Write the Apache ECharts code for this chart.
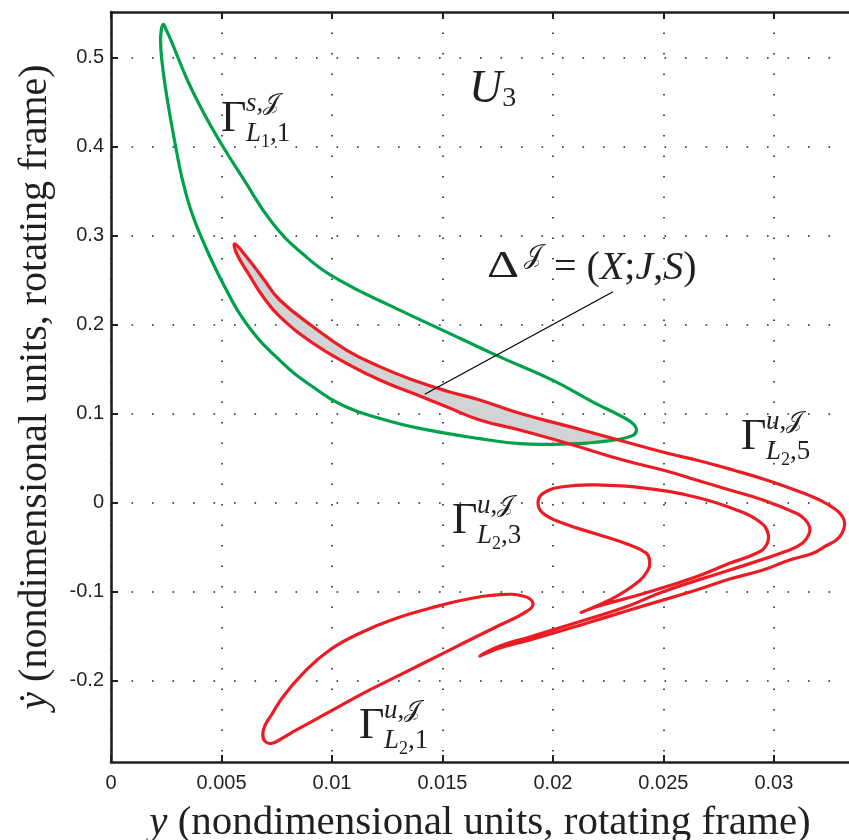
<!DOCTYPE html>
<html><head><meta charset="utf-8">
<script src="https://cdn.jsdelivr.net/npm/echarts@6/dist/echarts.min.js"></script>
<style>html,body{margin:0;padding:0;background:#fff}#c{width:849px;height:840px}</style>
</head><body><div id="c"></div>
<script>
// ---- tick values / labels ----
const xTicks = [0, 0.005, 0.01, 0.015, 0.02, 0.025, 0.03];
const xTickLabels = ['0', '0.005', '0.01', '0.015', '0.02', '0.025', '0.03'];
const yTicks = [-0.2, -0.1, 0, 0.1, 0.2, 0.3, 0.4, 0.5];
const yTickLabels = ['-0.2', '-0.1', '0', '0.1', '0.2', '0.3', '0.4', '0.5'];

// ---- closed curves: [y, ydot] ----
const gammaS_L1_1 = [
  [0.002367,0.5370],[0.002502,0.5308],[0.002729,0.5184],[0.003475,0.4735],[0.004244,0.4353],
  [0.004968,0.4038],[0.005964,0.3645],[0.007335,0.3131],[0.008846,0.2756],[0.010353,0.2494],
  [0.012615,0.2213],[0.015027,0.1933],[0.017444,0.1652],[0.020004,0.1371],[0.021815,0.1127],
  [0.023172,0.0958],[0.023656,0.0876],[0.023778,0.0809],[0.023625,0.0753],[0.022873,0.0704],
  [0.021516,0.0666],[0.020004,0.0652],[0.018498,0.0660],[0.016688,0.0716],[0.013973,0.0831],
  [0.012163,0.0944],[0.010656,0.1071],[0.009145,0.1296],[0.007638,0.1596],[0.006131,0.2008],
  [0.005104,0.2443],[0.004199,0.2915],[0.003611,0.3285],[0.003204,0.3656],[0.002955,0.3960],
  [0.002706,0.4297],[0.002480,0.4634],[0.002299,0.4971],[0.002244,0.5173],[0.002276,0.5308]
];
const gammaU_L2_5 = [
  [0.005602,0.2903],[0.006131,0.2761],[0.006869,0.2521],[0.007638,0.2274],[0.009145,0.1974],
  [0.010656,0.1712],[0.012163,0.1525],[0.013670,0.1375],[0.015181,0.1252],[0.016688,0.1151],
  [0.018498,0.1001],[0.020760,0.0851],[0.022719,0.0718],[0.025136,0.0555],[0.026493,0.0476],
  [0.028149,0.0364],[0.029661,0.0252],[0.031167,0.0120],[0.032072,0.0027],[0.032828,-0.0085],
  [0.033113,-0.0164],[0.033204,-0.0243],[0.033090,-0.0344],[0.032828,-0.0422],[0.032344,-0.0490],
  [0.031769,-0.0572],[0.030715,-0.0647],[0.029507,-0.0760],[0.028000,-0.0861],[0.026493,-0.0984],
  [0.023475,-0.1209],[0.021516,-0.1358],[0.018950,-0.1546],[0.017593,-0.1636],[0.016688,-0.1726],
  [0.017593,-0.1613],[0.018950,-0.1512],[0.021516,-0.1316],[0.023475,-0.1158],[0.024982,-0.1003],
  [0.028000,-0.0760],[0.030715,-0.0535],[0.031303,-0.0456],[0.031575,-0.0366],[0.031620,-0.0276],
  [0.031394,-0.0187],[0.031018,-0.0122],[0.029507,0.0027],[0.028000,0.0139],[0.026493,0.0252],
  [0.025136,0.0353],[0.023172,0.0476],[0.020760,0.0656],[0.018498,0.0813],[0.016688,0.0926],
  [0.015181,0.1075],[0.013670,0.1226],[0.012163,0.1375],[0.010656,0.1563],[0.009145,0.1788],
  [0.007638,0.2087],[0.006882,0.2311],[0.006281,0.2544],[0.005679,0.2799]
];
const gammaU_L2_3 = [
  [0.021290,-0.1235],[0.022570,-0.1097],[0.023778,-0.0909],[0.024303,-0.0760],[0.024380,-0.0666],
  [0.024231,-0.0572],[0.023475,-0.0479],[0.021968,-0.0355],[0.020457,-0.0235],[0.019552,-0.0122],
  [0.019326,-0.0010],[0.019552,0.0102],[0.020457,0.0176],[0.021968,0.0196],[0.024231,0.0158],
  [0.026493,0.0057],[0.028303,-0.0085],[0.029357,-0.0217],[0.029733,-0.0347],[0.029661,-0.0479],
  [0.029208,-0.0572],[0.028000,-0.0684],[0.026493,-0.0835],[0.024231,-0.1015],[0.021968,-0.1172]
];
const gammaU_L2_1 = [
  [0.007231,-0.2400],[0.007787,-0.2183],[0.008692,-0.1920],[0.009900,-0.1658],[0.011407,-0.1453],
  [0.012919,-0.1302],[0.014425,-0.1190],[0.015932,-0.1097],[0.017443,-0.1040],[0.018647,-0.1052],
  [0.019100,-0.1134],[0.018801,-0.1228],[0.017443,-0.1397],[0.015932,-0.1583],[0.015027,-0.1697],
  [0.012919,-0.1958],[0.011407,-0.2145],[0.009900,-0.2352],[0.008394,-0.2557],[0.007729,-0.2653],
  [0.007253,-0.2709],[0.006959,-0.2681],[0.006869,-0.2602],[0.006982,-0.2501]
];
// shaded intersection region Delta
const deltaRegion = [
  [0.005602,0.2903],[0.006131,0.2761],[0.006869,0.2521],[0.007638,0.2274],[0.009145,0.1974],
  [0.010656,0.1712],[0.012163,0.1525],[0.013670,0.1375],[0.015181,0.1252],[0.016688,0.1151],
  [0.018498,0.1001],[0.020760,0.0851],[0.022873,0.0720],[0.021968,0.0685],[0.020760,0.0656],
  [0.018498,0.0813],[0.016688,0.0926],[0.015181,0.1075],[0.013670,0.1226],[0.012163,0.1375],
  [0.010656,0.1563],[0.009145,0.1788],[0.007638,0.2087],[0.006882,0.2311],[0.006281,0.2544],
  [0.005679,0.2799]
];
const deltaPointer = [[0.014199,0.1215],[0.022719,0.2367]];

const RED = '#ED1C24', GREEN = '#00A14B', INK = '#231f20';
const SERIF = "'Liberation Serif','DejaVu Serif','DejaVu Sans','Noto Sans',serif";
const SANS = "'Liberation Sans',Arial,sans-serif";

function lab(ticks, labels) {
  return v => { const i = ticks.findIndex(t => Math.abs(t - v) < 1e-9); return i >= 0 ? labels[i] : ''; };
}

const chart = echarts.init(document.getElementById('c'), null, {renderer: 'canvas'});

function gammaLabel(left, midY, supTxt, subTxt) {
  return [
    {type:'text', style:{text:'Γ', x:left, y:midY, fill:INK, fontFamily:SERIF, fontSize:44, align:'left', verticalAlign:'middle'}},
    {type:'text', style:{text:supTxt, x:left+25, y:midY-15, fill:INK, align:'left', verticalAlign:'middle',
      rich:{i:{fontFamily:SERIF, fontSize:27, fontStyle:'italic', fill:INK}, n:{fontFamily:SERIF, fontSize:27, fill:INK}, j:{fontFamily:SERIF, fontSize:24, fill:INK}}}},
    {type:'text', style:{text:subTxt, x:left+25, y:midY+15, fill:INK, align:'left', verticalAlign:'middle',
      rich:{i:{fontFamily:SERIF, fontSize:27, fontStyle:'italic', fill:INK, lineHeight:34}, s:{fontFamily:SERIF, fontSize:18, fill:INK, verticalAlign:'bottom', lineHeight:18}, n:{fontFamily:SERIF, fontSize:27, fill:INK, lineHeight:34}}}}
  ];
}

const graphics = [].concat(
  gammaLabel(221, 119, '{i|s}{n|,}{j|𝒥}', '{i|L}{s|1}{n|,1}'),
  gammaLabel(741, 437, '{i|u}{n|,}{j|𝒥}', '{i|L}{s|2}{n|,5}'),
  gammaLabel(452, 521, '{i|u}{n|,}{j|𝒥}', '{i|L}{s|2}{n|,3}'),
  gammaLabel(359, 726, '{i|u}{n|,}{j|𝒥}', '{i|L}{s|2}{n|,1}'),
  [
    {type:'text', style:{text:'{u|U}{s|3}', x:469, y:90, align:'left', verticalAlign:'middle',
      rich:{u:{fontFamily:SERIF, fontSize:46, fontStyle:'italic', fill:INK, lineHeight:46}, s:{fontFamily:SERIF, fontSize:28, fill:INK, verticalAlign:'bottom', lineHeight:28}}}},
    {type:'text', x:487, y:267, scaleX:1.35, style:{text:'Δ', x:0, y:0, fill:INK, fontFamily:SERIF, fontSize:37, align:'left', verticalAlign:'middle'}},
    {type:'text', style:{text:'𝒥', x:524, y:256, fill:INK, fontFamily:SERIF, fontSize:26, align:'left', verticalAlign:'middle'}},
    {type:'text', style:{text:'{n|= (}{i|X}{n|;}{i|J}{n|,}{i|S}{n|)}', x:554, y:268, align:'left', verticalAlign:'middle',
      rich:{n:{fontFamily:SERIF, fontSize:40, fill:INK}, i:{fontFamily:SERIF, fontSize:40, fontStyle:'italic', fill:INK}}}}
  ]
);

const closedCurve = (data, color) => ({
  type:'custom', data, z:3, silent:true, clip:false,
  renderItem:(params, api) => {
    if (params.dataIndex !== 0) return null;
    return {type:'polygon', shape:{points:data.map(p => api.coord(p)), smooth:0.45},
            style:{fill:'none', stroke:color, lineWidth:3.2, lineJoin:'round'}};
  }
});

chart.setOption({
  animation:false,
  backgroundColor:'#ffffff',
  grid:{left:111, right:0, top:12, bottom:78, containLabel:false, outerBoundsMode:'none'},
  xAxis:[
    {type:'value', min:0, max:0.0334, position:'bottom',
     name:'{i|y} (nondimensional units, rotating frame)', nameLocation:'middle', nameGap:41,
     nameTextStyle:{fontFamily:SERIF, fontSize:41, color:INK, rich:{i:{fontFamily:SERIF, fontSize:41, fontStyle:'italic', color:INK}}},
     axisLine:{show:true, onZero:false, lineStyle:{color:INK, width:2.6}},
     axisTick:{show:true, inside:true, length:7, customValues:xTicks, lineStyle:{color:INK, width:2}},
     axisLabel:{customValues:xTicks, formatter:lab(xTicks, xTickLabels), fontFamily:SANS, fontSize:20, color:INK, margin:11},
     splitLine:{show:true, lineStyle:{color:INK, width:1.6, type:[1.6,18.9]}}},
    {type:'value', min:0, max:0.0334, position:'top',
     axisLine:{show:true, onZero:false, lineStyle:{color:INK, width:2.6}},
     axisTick:{show:true, inside:true, length:7, customValues:xTicks, lineStyle:{color:INK, width:2}},
     axisLabel:{show:false}, splitLine:{show:false}}
  ],
  yAxis:[
    {type:'value', min:-0.2917, max:0.551, position:'left',
     name:'{i|ẏ} (nondimensional units, rotating frame)', nameLocation:'middle', nameGap:56,
     nameTextStyle:{fontFamily:SERIF, fontSize:40, color:INK, rich:{i:{fontFamily:SERIF, fontSize:40, fontStyle:'italic', color:INK}}},
     axisLine:{show:true, onZero:false, lineStyle:{color:INK, width:2.6}},
     axisTick:{show:true, inside:true, length:7, customValues:yTicks, lineStyle:{color:INK, width:2}},
     axisLabel:{customValues:yTicks, formatter:lab(yTicks, yTickLabels), fontFamily:SANS, fontSize:20, color:INK, margin:7},
     splitLine:{show:true, lineStyle:{color:INK, width:1.6, type:[1.6,18.9]}}}
  ],
  series:[
    {type:'custom', data:deltaRegion, z:1, silent:true, clip:false,
     renderItem:(params, api) => {
       if (params.dataIndex !== 0) return null;
       return {type:'polygon', shape:{points:deltaRegion.map(p => api.coord(p)), smooth:0.3}, style:{fill:'#d1d3d4', stroke:null}};
     }},
    closedCurve(gammaS_L1_1, GREEN),
    closedCurve(gammaU_L2_5, RED),
    closedCurve(gammaU_L2_3, RED),
    closedCurve(gammaU_L2_1, RED),
    {type:'line', data:deltaPointer, showSymbol:false, symbol:'none', z:4, silent:true,
     lineStyle:{color:'#000', width:1.2}}
  ],
  graphic: graphics
});
</script>
</body></html>
